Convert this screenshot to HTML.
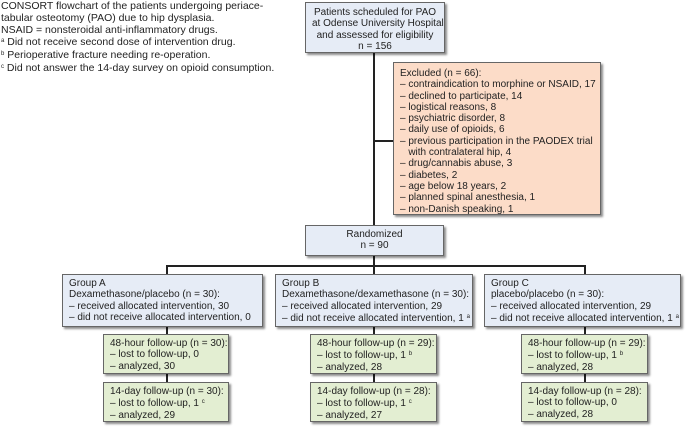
<!DOCTYPE html>
<html><head><style>
body{margin:0;width:689px;height:430px;background:#fff;position:relative;overflow:hidden;font-family:"Liberation Sans",Arial,sans-serif;font-size:10px;color:#222;}
.b{position:absolute;box-sizing:border-box;border:1px solid #666;box-shadow:2px 2px 2px rgba(0,0,0,0.45);line-height:11.3px;padding:3px 6px;white-space:nowrap;}
.bl{background:#e6ecf6}.or{background:#fcdcc8}.gr{background:#e3eed2}
.c{text-align:center}
.l{position:absolute;background:#222}
sup{font-size:6px;vertical-align:3px}
.cap{position:absolute;left:1px;top:1px;font-size:10.5px;line-height:11.8px;color:#222}
</style></head><body>
<div class="cap">CONSORT flowchart of the patients undergoing periace-<br>tabular osteotomy (PAO) due to hip dysplasia.<br>NSAID = nonsteroidal anti-inflammatory drugs.<br><sup>a</sup> Did not receive second dose of intervention drug.<br><sup>b</sup> Perioperative fracture needing re-operation.<br><sup>c</sup> Did not answer the 14-day survey on opioid consumption.</div>

<div class="l" style="left:373px;top:53px;width:2px;height:172px"></div>
<div class="l" style="left:374px;top:140px;width:19px;height:2px"></div>
<div class="l" style="left:373px;top:256px;width:2px;height:18px"></div>
<div class="l" style="left:166px;top:265px;width:420px;height:2px"></div>
<div class="l" style="left:166px;top:265px;width:2px;height:9px"></div>
<div class="l" style="left:584px;top:265px;width:2px;height:9px"></div>
<div class="l" style="left:166px;top:327px;width:2px;height:55px"></div>
<div class="l" style="left:373px;top:327px;width:2px;height:55px"></div>
<div class="l" style="left:584px;top:327px;width:2px;height:55px"></div>

<div class="b bl c" style="left:305px;top:2px;width:140px;height:51px;padding-top:4px">Patients scheduled for PAO<br>at Odense University Hospital<br>and assessed for eligibility<br>n = 156</div>
<div class="b or" style="left:393px;top:62px;width:208px;height:153px;padding-top:5px">Excluded (n = 66):<br>– contraindication to morphine or NSAID, 17<br>– declined to participate, 14<br>– logistical reasons, 8<br>– psychiatric disorder, 8<br>– daily use of opioids, 6<br>– previous participation in the PAODEX trial<br>&nbsp;&nbsp;&nbsp;with contralateral hip, 4<br>– drug/cannabis abuse, 3<br>– diabetes, 2<br>– age below 18 years, 2<br>– planned spinal anesthesia, 1<br>– non-Danish speaking, 1</div>
<div class="b bl c" style="left:305px;top:225px;width:139px;height:31px;padding-top:3px">Randomized<br>n = 90</div>

<div class="b bl" style="left:62px;top:274px;width:201px;height:53px">Group A<br>Dexamethasone/placebo (n = 30):<br>– received allocated intervention, 30<br>– did not receive allocated intervention, 0</div>
<div class="b bl" style="left:275px;top:274px;width:198px;height:53px">Group B<br>Dexamethasone/dexamethasone (n = 30):<br>– received allocated intervention, 29<br>– did not receive allocated intervention, 1 <sup>a</sup></div>
<div class="b bl" style="left:484px;top:274px;width:197px;height:53px">Group C<br>placebo/placebo (n = 30):<br>– received allocated intervention, 29<br>– did not receive allocated intervention, 1 <sup>a</sup></div>

<div class="b gr" style="left:103px;top:334px;width:126px;height:40px">48-hour follow-up (n = 30):<br>– lost to follow-up, 0<br>– analyzed, 30</div>
<div class="b gr" style="left:103px;top:382px;width:126px;height:40px">14-day follow-up (n = 30):<br>– lost to follow-up, 1 <sup>c</sup><br>– analyzed, 29</div>
<div class="b gr" style="left:310px;top:334px;width:127px;height:40px">48-hour follow-up (n = 29):<br>– lost to follow-up, 1 <sup>b</sup><br>– analyzed, 28</div>
<div class="b gr" style="left:310px;top:382px;width:127px;height:40px">14-day follow-up (n = 28):<br>– lost to follow-up, 1 <sup>c</sup><br>– analyzed, 27</div>
<div class="b gr" style="left:521px;top:334px;width:127px;height:40px">48-hour follow-up (n = 29):<br>– lost to follow-up, 1 <sup>b</sup><br>– analyzed, 28</div>
<div class="b gr" style="left:521px;top:382px;width:127px;height:40px">14-day follow-up (n = 28):<br>– lost to follow-up, 0<br>– analyzed, 28</div>
</body></html>
